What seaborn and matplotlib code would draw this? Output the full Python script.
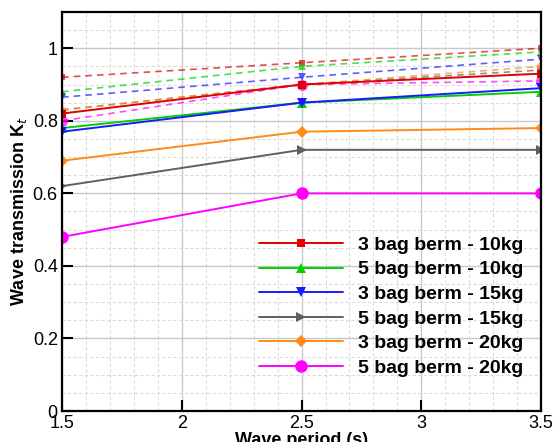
import numpy as np
import pandas as pd
import matplotlib
matplotlib.use("Agg")
import matplotlib.pyplot as plt
import seaborn as sns
from matplotlib.ticker import MultipleLocator, FuncFormatter

# wave period (s)
period = [1.5, 2.5, 3.5]

# legend labels of the configurations
labels = ["3 bag berm - 10kg", "5 bag berm - 10kg", "3 bag berm - 15kg",
          "5 bag berm - 15kg", "3 bag berm - 20kg", "5 bag berm - 20kg"]

# solid lines (shown in legend)
kt_solid = [
    [0.82, 0.90, 0.93],
    [0.78, 0.85, 0.88],
    [0.77, 0.85, 0.89],
    [0.62, 0.72, 0.72],
    [0.69, 0.77, 0.78],
    [0.48, 0.60, 0.60],
]

# dashed lines (not in legend)
kt_dashed = [
    [0.92, 0.96, 1.00],
    [0.88, 0.95, 0.99],
    [0.865, 0.92, 0.97],
    [0.83, 0.90, 0.94],
    [0.83, 0.90, 0.95],
    [0.80, 0.90, 0.91],
]

colors = ["#e00000", "#00d000", "#1a1aff", "#606060", "#ff8a1a", "#ff00ff"]
markers = ["s", "^", "v", ">", "D", "o"]
msizes = [6, 7, 7, 7, 6, 9]

sns.set_theme(style="white")
plt.rcParams['font.family'] = ['Liberation Sans', 'DejaVu Sans']
plt.rcParams['text.color'] = 'black'
plt.rcParams['axes.labelcolor'] = 'black'

fig = plt.figure(figsize=(5.55, 4.42), dpi=100)
ax = fig.add_axes([0.1117, 0.0701, 0.8633, 0.9028])

# grid
ax.xaxis.set_major_locator(MultipleLocator(0.5))
ax.xaxis.set_minor_locator(MultipleLocator(0.1))
ax.yaxis.set_major_locator(MultipleLocator(0.2))
ax.yaxis.set_minor_locator(MultipleLocator(0.05))
ax.grid(which="major", color="#c8c8c8", linewidth=1.0, linestyle="-")
ax.grid(which="minor", color="#dcdcdc", linewidth=0.8, linestyle=(0, (3, 2)))
ax.set_axisbelow(True)

for i in range(6):
    sns.lineplot(x=period, y=kt_dashed[i], ax=ax, color=colors[i], alpha=0.7,
                 linestyle=(0, (4, 3)), linewidth=1.2, marker=markers[i],
                 markersize=msizes[i] - 1, markeredgewidth=0, legend=False)

for i in range(6):
    sns.lineplot(x=period, y=kt_solid[i], ax=ax, color=colors[i],
                 linewidth=1.4, marker=markers[i], markersize=msizes[i],
                 markeredgewidth=0, label=labels[i])

ax.set_xlim(1.5, 3.5)
ax.set_ylim(0, 1.1)

fmt = FuncFormatter(lambda v, p: "%g" % round(v, 2))
ax.xaxis.set_major_formatter(fmt)
ax.yaxis.set_major_formatter(fmt)

ax.tick_params(which="major", direction="in", length=8, width=1.5,
               labelsize=13, colors="black", bottom=True, left=True,
               top=False, right=False, pad=3)
ax.tick_params(which="minor", direction="in", length=0)

for s in ax.spines.values():
    s.set_color("black")
    s.set_linewidth(1.6)

ax.set_xlabel("Wave period (s)", fontsize=13, fontweight="bold", labelpad=0)
ax.set_ylabel("Wave transmission K$_t$", fontsize=13, fontweight="bold", labelpad=3)

leg = ax.legend(loc="lower right", bbox_to_anchor=(1.0, 0.042), frameon=False,
                prop={"size": 14, "weight": "bold"}, handlelength=4.3,
                labelspacing=0.36, handletextpad=0.8)
for t in leg.get_texts():
    t.set_color("black")

fig.savefig("out.png", dpi=100)
